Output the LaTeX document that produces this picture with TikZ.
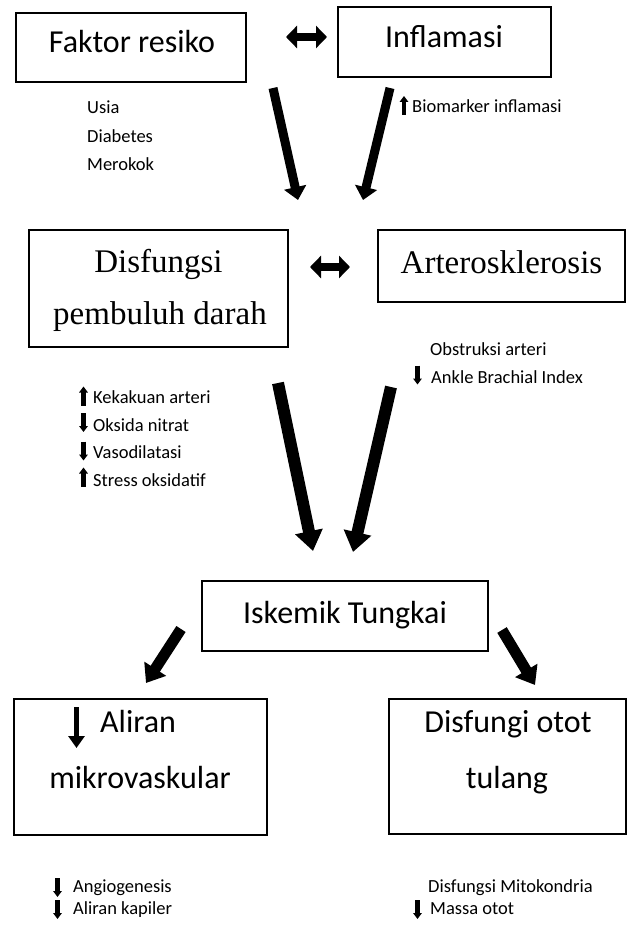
\documentclass[tikz,border=0pt]{standalone}
\usepackage{fontspec}
\setmainfont{Carlito}
\newfontfamily\timesfont{Liberation Serif}
\usetikzlibrary{arrows.meta}
\begin{document}
\begin{tikzpicture}[x=1pt,y=-1pt,
  box/.style={draw, line width=1.3pt, inner sep=0pt},
  bigtxt/.style={font=\fontsize{32}{38}\selectfont, inner sep=0pt, anchor=base},
  serif/.style={font=\timesfont\fontsize{33}{39}\selectfont, inner sep=0pt, anchor=base},
  smalltxt/.style={font=\fontsize{18.5}{22}\selectfont, inner sep=0pt, anchor=base west},
  toparrow/.style={line width=9pt, -{Triangle[width=22pt,length=13pt]}},
  midarrow/.style={line width=12pt, -{Triangle[width=27pt,length=20pt]}},
  botarrow/.style={line width=11pt, -{Triangle[width=25pt,length=17pt]}},
  dblarrow/.style={line width=8pt, {Triangle[width=22pt,length=11pt]}-{Triangle[width=22pt,length=11pt]}},
  pics/uparr/.style={code={\draw[line width=4.2pt,-{Triangle[width=8.5pt,length=6pt]}] (0,9.5) -- (0,-9.5);}},
  pics/dnarr/.style={code={\draw[line width=4.2pt,-{Triangle[width=8.5pt,length=6pt]}] (0,-9.5) -- (0,9.5);}}
]
\useasboundingbox (0,0) rectangle (630,925);

% boxes
\node[box, minimum width=230pt, minimum height=69pt] (faktor) at (131,47.5) {};
\node[box, minimum width=213pt, minimum height=70pt] (inflam) at (444.5,42) {};
\node[box, minimum width=259pt, minimum height=117pt] (disf) at (158.5,288.5) {};
\node[box, minimum width=247pt, minimum height=72pt] (arter) at (501.5,266) {};
\node[box, minimum width=286pt, minimum height=70pt] (iskem) at (345,616) {};
\node[box, minimum width=253pt, minimum height=136pt] (aliran) at (140.5,767) {};
\node[box, minimum width=237pt, minimum height=135pt] (otot) at (507.5,766.5) {};

% box texts
\node[bigtxt] (tfaktor) at (132,53) {Faktor resiko};
\node[bigtxt] (tinflam) at (444,48) {Inflamasi};
\node[serif] (tdisf1) at (158.5,272) {Disfungsi};
\node[serif] (tdisf2) at (160,324) {pembuluh darah};
\node[serif] (tarter) at (501.5,273) {Arterosklerosis};
\node[bigtxt] (tiskem) at (345,623) {Iskemik Tungkai};
\node[bigtxt, anchor=base west] (tali1) at (100,732) {Aliran};
\node[bigtxt] (tali2) at (140,788) {mikrovaskular};
\node[bigtxt] (tott1) at (508,732) {Disfungi otot};
\node[bigtxt] (tott2) at (507,788) {tulang};
\draw[line width=5.5pt,-{Triangle[width=16pt,length=12pt]}] (76.5,707) -- (76.5,748);

% small labels
\node[smalltxt] (usia) at (87,114) {Usia};
\node[smalltxt] (diab) at (87,143) {Diabetes};
\node[smalltxt] (mero) at (87,171) {Merokok};
\node[smalltxt] (biom) at (412,113) {Biomarker inflamasi};
\pic at (404,105.5) {uparr};

\node[smalltxt] (keka) at (93,403) {Kekakuan arteri};
\node[smalltxt] (oksi) at (93,431) {Oksida nitrat};
\node[smalltxt] (vaso) at (93,458) {Vasodilatasi};
\node[smalltxt] (stre) at (93,486) {Stress oksidatif};
\pic at (83.5,396) {uparr};
\pic at (83.5,422.5) {dnarr};
\pic at (83.5,451) {dnarr};
\pic at (83.5,477) {uparr};

\node[smalltxt] (obst) at (430,355) {Obstruksi arteri};
\node[smalltxt] (ankl) at (431,383) {Ankle Brachial Index};
\pic at (417.5,375) {dnarr};

\node[smalltxt] (angi) at (73,892) {Angiogenesis};
\node[smalltxt] (kapi) at (73,914) {Aliran kapiler};
\pic at (57.5,887.5) {dnarr};
\pic at (57.5,909.5) {dnarr};

\node[smalltxt] (mito) at (428,892) {Disfungsi Mitokondria};
\node[smalltxt] (mass) at (430,914) {Massa otot};
\pic at (417.5,909.5) {dnarr};

% big arrows
\coordinate (t1s) at (273,88);  \coordinate (t1e) at (298,200);
\coordinate (t2s) at (390,88);  \coordinate (t2e) at (363,200);
\draw[toparrow] (t1s) -- (t1e);
\draw[toparrow] (t2s) -- (t2e);

\coordinate (m1s) at (278,383); \coordinate (m1e) at (313,551);
\coordinate (m2s) at (391,387); \coordinate (m2e) at (353,552);
\draw[midarrow] (m1s) -- (m1e);
\draw[midarrow] (m2s) -- (m2e);

\coordinate (b1s) at (181,629); \coordinate (b1e) at (146,683);
\coordinate (b2s) at (502,630); \coordinate (b2e) at (535,685);
\draw[botarrow] (b1s) -- (b1e);
\draw[botarrow] (b2s) -- (b2e);

% double arrows
\coordinate (d1a) at (286,37); \coordinate (d1b) at (327,37);
\draw[dblarrow] (d1a) -- (d1b);
\coordinate (d2a) at (310,267); \coordinate (d2b) at (350,267);
\draw[dblarrow] (d2a) -- (d2b);
\end{tikzpicture}
\end{document}
